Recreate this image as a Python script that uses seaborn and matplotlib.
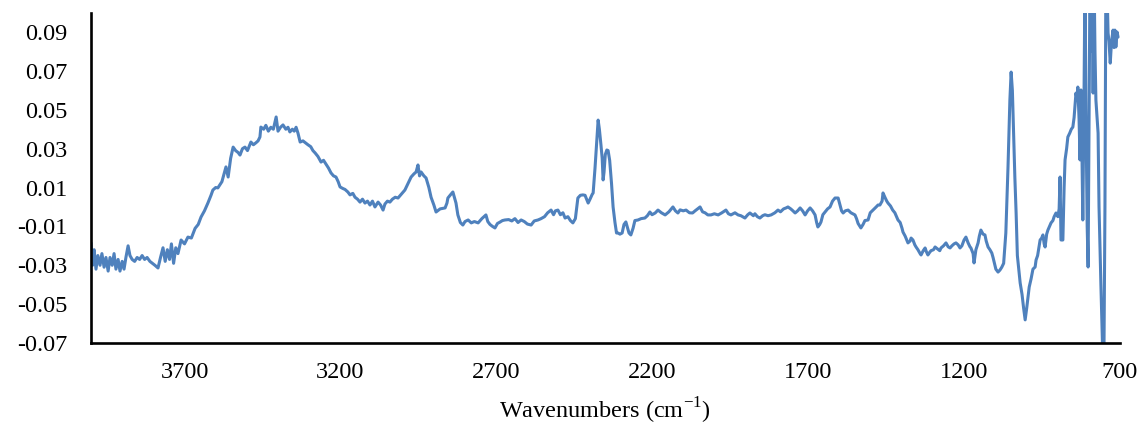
import numpy as np
import pandas as pd
import matplotlib
matplotlib.use("Agg")
import matplotlib.pyplot as plt
import seaborn as sns

# Wavenumbers (cm-1) and absorbance values
wavenumbers = [
    4000, 3995, 3990, 3984, 3978, 3971, 3965, 3958, 3952, 3945, 3939, 3932, 3926, 3920, 3913, 3907,
    3900, 3894, 3888, 3881, 3875, 3868, 3860, 3852, 3844, 3836, 3828, 3820, 3811, 3803, 3795, 3785,
    3777, 3769, 3762, 3755, 3748, 3742, 3735, 3728, 3721, 3711, 3700, 3689, 3678, 3666, 3656, 3647,
    3636, 3625, 3615, 3609, 3600, 3593, 3580, 3567, 3560, 3552, 3544, 3536, 3528, 3522, 3514, 3506,
    3498, 3487, 3479, 3471, 3464, 3458, 3455, 3446, 3439, 3431, 3423, 3415, 3406, 3400, 3392, 3384,
    3375, 3368, 3362, 3354, 3348, 3342, 3336, 3329, 3320, 3312, 3304, 3295, 3288, 3281, 3272, 3262,
    3254, 3246, 3238, 3230, 3222, 3214, 3207, 3201, 3192, 3185, 3176, 3169, 3160, 3153, 3145, 3137,
    3129, 3121, 3113, 3105, 3097, 3089, 3079, 3071, 3063, 3057, 3049, 3041, 3033, 3024, 3015, 3005,
    2993, 2983, 2973, 2964, 2957, 2951, 2946, 2941, 2932, 2925, 2916, 2909, 2900, 2893, 2880, 2864,
    2858, 2855, 2848, 2839, 2829, 2823, 2815, 2807, 2800, 2790, 2780, 2770, 2758, 2746, 2733, 2727,
    2720, 2712, 2704, 2696, 2688, 2680, 2672, 2660, 2650, 2640, 2630, 2620, 2610, 2600, 2588, 2578,
    2566, 2556, 2545, 2535, 2524, 2516, 2510, 2502, 2494, 2486, 2479, 2470, 2462, 2454, 2446, 2438,
    2430, 2422, 2415, 2405, 2399, 2392, 2389, 2383, 2377, 2373, 2369, 2364, 2360, 2357, 2354, 2350,
    2345, 2341, 2336, 2330, 2325, 2319, 2314, 2309, 2303, 2296, 2290, 2284, 2278, 2274, 2268, 2261,
    2255, 2245, 2235, 2223, 2215, 2207, 2200, 2190, 2181, 2170, 2158, 2146, 2133, 2125, 2117, 2110,
    2100, 2091, 2080, 2070, 2062, 2046, 2038, 2030, 2021, 2011, 2000, 1988, 1976, 1963, 1955, 1947,
    1934, 1924, 1915, 1902, 1893, 1886, 1875, 1870, 1862, 1854, 1845, 1838, 1828, 1818, 1806, 1796,
    1788, 1778, 1770, 1764, 1755, 1748, 1741, 1733, 1725, 1717, 1709, 1701, 1693, 1685, 1677, 1672,
    1668, 1662, 1658, 1652, 1645, 1637, 1629, 1621, 1613, 1603, 1597, 1592, 1587, 1580, 1571, 1562,
    1556, 1549, 1544, 1539, 1530, 1523, 1517, 1507, 1500, 1491, 1481, 1475, 1469, 1462, 1459, 1453,
    1447, 1443, 1435, 1428, 1421, 1411, 1404, 1398, 1395, 1388, 1379, 1372, 1369, 1363, 1357, 1353,
    1347, 1340, 1337, 1330, 1324, 1320, 1315, 1310, 1305, 1297, 1292, 1285, 1277, 1273, 1265, 1257,
    1250, 1244, 1238, 1231, 1225, 1218, 1212, 1206, 1199, 1193, 1186, 1180, 1177, 1170, 1167, 1161,
    1154, 1150, 1145, 1138, 1132, 1128, 1122, 1116, 1110, 1106, 1100, 1097, 1090, 1084, 1078, 1072,
    1065, 1058, 1052, 1048, 1044, 1040, 1036, 1032, 1028, 1019, 1013, 1008, 1003, 998, 990, 984,
    978, 971, 968, 963, 958, 955, 950, 946, 942, 939, 934, 930, 925, 920, 914, 910,
    904, 898, 894, 891, 888, 882, 878, 875, 870, 866, 860, 855, 850, 846, 840, 836,
    834, 830, 827, 824, 821, 818, 814, 811, 808, 804, 801, 798, 795, 792, 788, 785,
    782, 779, 776, 772, 769, 766, 760, 755, 750, 747, 744, 740, 737, 734, 730, 726,
    721, 718, 715, 712, 708, 705,
]

absorbance = [
    -0.0185, -0.030, -0.022, -0.032, -0.025, -0.030, -0.024, -0.031, -0.026, -0.033, -0.026, -0.030, -0.024, -0.032, -0.027, -0.033,
    -0.028, -0.032, -0.026, -0.020, -0.025, -0.027, -0.028, -0.026, -0.027, -0.025, -0.027, -0.026, -0.028, -0.029, -0.030, -0.0314,
    -0.026, -0.021, -0.028, -0.022, -0.027, -0.019, -0.029, -0.021, -0.024, -0.017, -0.019, -0.0155, -0.016, -0.011, -0.009, -0.0052,
    -0.002, 0.002, 0.006, 0.0087, 0.010, 0.0098, 0.013, 0.0206, 0.0154, 0.025, 0.0308, 0.029, 0.028, 0.0267, 0.030, 0.0308,
    0.029, 0.0334, 0.032, 0.033, 0.034, 0.036, 0.0411, 0.040, 0.042, 0.039, 0.041, 0.040, 0.0463, 0.039, 0.041, 0.0422,
    0.040, 0.041, 0.0386, 0.040, 0.039, 0.041, 0.038, 0.0334, 0.034, 0.033, 0.032, 0.031, 0.029, 0.0278, 0.026, 0.0231,
    0.024, 0.022, 0.020, 0.0175, 0.016, 0.0154, 0.013, 0.0103, 0.0095, 0.009, 0.0077, 0.0062, 0.007, 0.005, 0.004, 0.0025,
    0.004, 0.002, 0.003, 0.001, 0.003, 0.0, 0.0025, 0.001, -0.0016, 0.0015, 0.003, 0.0025, 0.004, 0.005, 0.0046, 0.0065,
    0.0087, 0.012, 0.0154, 0.017, 0.018, 0.0216, 0.016, 0.018, 0.016, 0.0149, 0.010, 0.005, 0.001, -0.0026, -0.001, -0.0005,
    0.002, 0.0046, 0.006, 0.0077, 0.002, -0.0041, -0.008, -0.0093, -0.0075, -0.0067, -0.0082, -0.0075, -0.0082, -0.006, -0.0041, -0.0075,
    -0.009, -0.010, -0.0108, -0.0085, -0.0078, -0.007, -0.0067, -0.0065, -0.0072, -0.006, -0.008, -0.0067, -0.0075, -0.0088, -0.0093, -0.0072,
    -0.0067, -0.006, -0.005, -0.003, -0.0016, -0.004, -0.002, -0.0016, -0.004, -0.003, -0.0057, -0.005, -0.007, -0.0082, -0.006, 0.0046,
    0.006, 0.0062, 0.006, 0.002, 0.004, 0.0065, 0.0072, 0.020, 0.035, 0.0447, 0.040, 0.032, 0.025, 0.0139, 0.018, 0.027,
    0.0293, 0.029, 0.024, 0.012, 0.000, -0.008, -0.0134, -0.0134, -0.014, -0.0134, -0.009, -0.0077, -0.011, -0.0134, -0.0144, -0.011,
    -0.007, -0.0067, -0.006, -0.0057, -0.0045, -0.0026, -0.004, -0.0031, -0.0016, -0.003, -0.0041, -0.0025, 0.0, -0.002, -0.0031, -0.0015,
    -0.002, -0.0016, -0.003, -0.0031, -0.002, 0.0, -0.0025, -0.003, -0.0041, -0.0041, -0.0035, -0.0041, -0.003, -0.0016, -0.0035, -0.0041,
    -0.003, -0.0041, -0.0045, -0.0057, -0.004, -0.0031, -0.0045, -0.0035, -0.005, -0.0057, -0.0045, -0.004, -0.0045, -0.0041, -0.003, -0.0016,
    -0.0025, -0.001, -0.0005, 0.0, -0.001, -0.002, -0.0031, -0.002, -0.0005, -0.002, -0.0041, -0.002, -0.0005, -0.002, -0.0041, -0.008,
    -0.0103, -0.009, -0.0077, -0.004, -0.0026, -0.001, 0.0, 0.003, 0.0046, 0.0046, 0.001, -0.002, -0.0031, -0.002, -0.0016, -0.003,
    -0.0035, -0.0041, -0.006, -0.0085, -0.0108, -0.009, -0.007, -0.0067, -0.003, -0.0016, 0.0, 0.001, 0.001, 0.003, 0.0072, 0.005,
    0.003, 0.002, 0.0005, -0.0016, -0.003, -0.0067, -0.008, -0.011, -0.0129, -0.015, -0.0185, -0.0175, -0.016, -0.017, -0.0195, -0.0206,
    -0.022, -0.024, -0.0247, -0.0225, -0.0211, -0.023, -0.0247, -0.0235, -0.0225, -0.022, -0.0206, -0.0215, -0.0225, -0.0211, -0.020, -0.0185,
    -0.0205, -0.0211, -0.020, -0.019, -0.0185, -0.0195, -0.0211, -0.020, -0.017, -0.0155, -0.0185, -0.0205, -0.0211, -0.024, -0.0288, -0.022,
    -0.0185, -0.015, -0.0119, -0.014, -0.0144, -0.0175, -0.0206, -0.022, -0.0237, -0.026, -0.0299, -0.032, -0.0335, -0.0325, -0.031, -0.029,
    -0.0134, 0.0206, 0.055, 0.0694, 0.060, 0.038, 0.015, -0.0031, -0.025, -0.0391, -0.045, -0.052, -0.0581, -0.052, -0.0412, -0.037,
    -0.032, -0.0309, -0.0273, -0.025, -0.020, -0.017, -0.016, -0.0144, -0.019, -0.0206, -0.014, -0.0119, -0.010, -0.0082, -0.007, -0.005,
    -0.0031, -0.005, -0.001, 0.0154, -0.017, -0.017, 0.010, 0.0242, 0.030, 0.036, 0.038, 0.040, 0.0411, 0.046, 0.0586, 0.055,
    0.0617, 0.045, 0.0242, 0.0602, 0.030, -0.0067, 0.060, 0.120, 0.050, -0.010, -0.0309, 0.040, 0.120, 0.080, 0.120, 0.0586,
    0.120, 0.080, 0.055, 0.045, 0.038, 0.0, -0.040, -0.070, -0.071, 0.0, 0.120, 0.110, 0.0895, 0.085, 0.074, 0.085,
    0.091, 0.082, 0.091, 0.0823, 0.090, 0.0874,
]

x_ticks = [3700, 3200, 2700, 2200, 1700, 1200, 700]
y_ticks = [-0.07, -0.05, -0.03, -0.01, 0.01, 0.03, 0.05, 0.07, 0.09]
y_tick_labels = ["-0.07", "-0.05", "-0.03", "-0.01", "0.01", "0.03", "0.05", "0.07", "0.09"]

df = pd.DataFrame({"wavenumber": wavenumbers, "absorbance": absorbance})

sns.set_theme(style="white")
plt.rcParams["font.family"] = ["Liberation Serif", "DejaVu Serif"]
plt.rcParams["mathtext.fontset"] = "custom"
plt.rcParams["mathtext.rm"] = "Liberation Serif"

fig = plt.figure(figsize=(11.45, 4.30), dpi=100)
ax = fig.add_axes([91 / 1145, 87 / 430, 1028.6 / 1145, 330.4 / 430])

sns.lineplot(data=df, x="wavenumber", y="absorbance", ax=ax, color="#4F81BD",
             linewidth=2.2, sort=False, estimator=None)

ax.set_xlim(4000, 700)
ax.set_ylim(-0.07, 0.10)
ax.set_xticks(x_ticks)
ax.set_xticklabels([str(t) for t in x_ticks])
ax.set_yticks(y_ticks)
ax.set_yticklabels(y_tick_labels)

for side in ["top", "right"]:
    ax.spines[side].set_visible(False)
for side in ["left", "bottom"]:
    ax.spines[side].set_visible(True)
    ax.spines[side].set_color("black")
    ax.spines[side].set_linewidth(1.9)

ax.tick_params(axis="both", length=0, labelsize=17.5, colors="black")
ax.tick_params(axis="y", pad=17)
ax.tick_params(axis="x", pad=14)
ax.set_ylabel("")
ax.set_xlabel(r"Wavenumbers (cm$^{\mathregular{-1}}$)", fontsize=17.5, color="black", labelpad=9)
ax.grid(False)

fig.savefig("out.png", dpi=100)
